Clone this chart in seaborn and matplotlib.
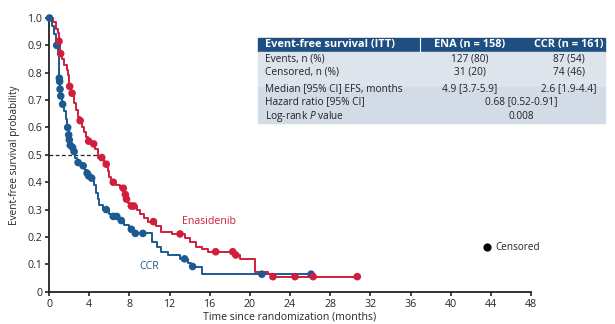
import numpy as np
import pandas as pd
import matplotlib
matplotlib.use('Agg')
import matplotlib.pyplot as plt
import seaborn as sns
from matplotlib.patches import Rectangle

## data
# Enasidenib arm: step times (months) and event-free survival
ena_t = [0, 0.4, 0.7, 0.9, 0.95, 1.12, 1.3, 1.5, 1.75, 1.9, 2.0, 2.2, 2.5, 2.7, 2.9, 3.05,
         3.3, 3.5, 3.7, 3.85, 4.2, 4.6, 4.9, 5.5, 5.85, 6.0, 6.2, 6.7, 7.1, 7.5, 7.7, 7.9,
         8.1, 8.8, 9.1, 9.5, 9.9, 10.7, 11.2, 12.2, 13.5, 14.0, 14.6, 15.2, 15.8, 18.5,
         19.0, 20.5, 21.8, 22.2, 30.8]
ena_s = [1.0, 0.985, 0.96, 0.945, 0.915, 0.87, 0.85, 0.83, 0.81, 0.79, 0.75, 0.725, 0.69,
         0.665, 0.64, 0.625, 0.60, 0.585, 0.565, 0.55, 0.54, 0.52, 0.49, 0.466, 0.44, 0.42,
         0.40, 0.39, 0.378, 0.355, 0.338, 0.325, 0.313, 0.30, 0.285, 0.27, 0.256, 0.24,
         0.217, 0.211, 0.195, 0.18, 0.165, 0.155, 0.146, 0.134, 0.12, 0.072, 0.064, 0.055,
         0.055]
ena_cens_t = [1.0, 1.16, 2.06, 2.3, 3.1, 3.95, 4.45, 5.25, 5.7, 6.4, 7.4, 7.6, 7.72, 8.2,
              8.45, 10.4, 13.05, 16.6, 18.3, 18.6, 22.3, 24.5, 26.3, 30.7]
ena_cens_s = [0.915, 0.87, 0.75, 0.725, 0.625, 0.55, 0.54, 0.49, 0.466, 0.40, 0.378,
              0.355, 0.338, 0.313, 0.313, 0.256, 0.211, 0.146, 0.146, 0.134, 0.055, 0.055,
              0.055, 0.055]

# conventional care regimen arm
ccr_t = [0, 0.3, 0.5, 0.7, 0.85, 0.95, 1.0, 1.1, 1.15, 1.3, 1.5, 1.65, 1.8, 1.95, 2.0,
         2.1, 2.3, 2.45, 2.6, 2.8, 3.2, 3.6, 3.75, 3.9, 4.1, 4.5, 4.7, 4.85, 5.0, 5.4, 6.0,
         6.3, 7.0, 7.5, 8.0, 8.5, 10.3, 10.8, 11.2, 11.9, 13.0, 13.8, 14.1, 15.2, 26.2]
ccr_s = [1.0, 0.97, 0.94, 0.90, 0.87, 0.82, 0.78, 0.74, 0.715, 0.685, 0.66, 0.63, 0.60,
         0.573, 0.555, 0.535, 0.527, 0.512, 0.49, 0.472, 0.46, 0.445, 0.433, 0.423, 0.415,
         0.39, 0.36, 0.34, 0.317, 0.30, 0.285, 0.275, 0.26, 0.245, 0.228, 0.213, 0.18,
         0.165, 0.146, 0.134, 0.12, 0.105, 0.092, 0.064, 0.064]
ccr_cens_t = [0.05, 0.77, 1.03, 1.06, 1.1, 1.17, 1.36, 1.86, 1.96, 2.02, 2.12, 2.35, 2.5,
              2.9, 3.4, 3.8, 3.95, 4.25, 5.7, 6.4, 6.75, 7.2, 8.2, 8.6, 9.35, 13.5, 14.3,
              21.2, 26.1]
ccr_cens_s = [1.0, 0.90, 0.78, 0.768, 0.74, 0.715, 0.685, 0.60, 0.573, 0.555, 0.535,
              0.527, 0.512, 0.472, 0.46, 0.433, 0.423, 0.415, 0.30, 0.275, 0.275, 0.26,
              0.228, 0.213, 0.213, 0.12, 0.092, 0.064, 0.064]

median_ena = 4.9

x_ticks = list(range(0, 49, 4))
y_ticks = [0, 0.1, 0.2, 0.3, 0.4, 0.5, 0.6, 0.7, 0.8, 0.9, 1.0]
y_labels = ['0', '0.1', '0.2', '0.3', '0.4', '0.5', '0.6', '0.7', '0.8', '0.9', '1.0']

table_header = ['Event-free survival (ITT)', 'ENA (n = 158)', 'CCR (n = 161)']
table_rows = ['Events, n (%)', 'Censored, n (%)', 'Median [95% CI] EFS, months',
              'Hazard ratio [95% CI]', 'Log-rank $P$ value']
table_ena = ['127 (80)', '31 (20)', '4.9 [3.7-5.9]']
table_ccr = ['87 (54)', '74 (46)', '2.6 [1.9-4.4]']
table_both = ['0.68 [0.52-0.91]', '0.008']

red = '#cf1f3c'
blue = '#1c5a92'

## figure
sns.set_style('ticks')
plt.rcParams['font.family'] = ['Open Sans', 'DejaVu Sans']
plt.rcParams['mathtext.fontset'] = 'custom'
plt.rcParams['mathtext.it'] = 'Open Sans:italic'

W, H = 615, 324
fig = plt.figure(figsize=(W / 100, H / 100), dpi=100)
ax = fig.add_axes([49 / W, 1 - 291.7 / H, 482 / W, 273.7 / H])

ena = pd.DataFrame({'t': ena_t, 's': ena_s})
ccr = pd.DataFrame({'t': ccr_t, 's': ccr_s})

sns.lineplot(data=ccr, x='t', y='s', color=blue, lw=1.4, drawstyle='steps-post',
             estimator=None, ax=ax, clip_on=False)
sns.lineplot(data=ena, x='t', y='s', color=red, lw=1.4, drawstyle='steps-post',
             estimator=None, ax=ax, clip_on=False)
sns.scatterplot(x=ccr_cens_t, y=ccr_cens_s, color=blue, s=30, edgecolor='none',
                ax=ax, clip_on=False, zorder=4)
sns.scatterplot(x=ena_cens_t, y=ena_cens_s, color=red, s=30, edgecolor='none',
                ax=ax, clip_on=False, zorder=4)

ax.hlines(0.5, 0, median_ena, colors='#222222', linestyles=(0, (3, 2)), lw=0.9, zorder=1)

ax.set_xlim(0, 48)
ax.set_ylim(0, 1.0)
ax.set_xticks(x_ticks)
ax.set_yticks(y_ticks)
ax.set_yticklabels(y_labels)
ax.tick_params(labelsize=7.7, length=3, width=1.2, color='#222222', pad=2)
for side in ['left', 'bottom']:
    ax.spines[side].set_linewidth(1.3)
    ax.spines[side].set_color('#222222')
sns.despine(ax=ax)
ax.set_xlabel('Time since randomization (months)', fontsize=7.6, labelpad=1.5)
ax.set_ylabel('Event-free survival probability', fontsize=7.2, labelpad=5)

ax.text(15.9, 0.255, 'Enasidenib', color=red, fontsize=7.7, ha='center', va='center')
ax.text(10.0, 0.092, 'CCR', color=blue, fontsize=7.7, ha='center', va='center')
ax.scatter([43.6], [0.162], color='black', s=24, clip_on=False)
ax.text(44.5, 0.162, 'Censored', fontsize=7.2, ha='left', va='center')

## table in pixel coordinates of the figure
def fx(x):
    return x / W

def fy(y):
    return 1 - y / H

tx0, tx1 = 258, 605
fig.patches.append(Rectangle((fx(tx0), fy(52)), fx(tx1 - tx0), 14 / H,
                             transform=fig.transFigure, color='#1f4f80'))
fig.patches.append(Rectangle((fx(tx0), fy(86.5)), fx(tx1 - tx0), 34.5 / H,
                             transform=fig.transFigure, color='#dde4ec'))
fig.patches.append(Rectangle((fx(tx0), fy(123)), fx(tx1 - tx0), 35.5 / H,
                             transform=fig.transFigure, color='#d2dbe6'))
fig.lines.append(plt.Line2D([fx(420), fx(420)], [fy(38), fy(52)], color='white',
                            lw=0.8, transform=fig.transFigure))

fs = 7.3
fig.text(fx(265), fy(45), table_header[0], color='white', fontsize=7.9,
         fontweight='bold', va='center')
fig.text(fx(470), fy(45), table_header[1], color='white', fontsize=7.9,
         fontweight='bold', va='center', ha='center')
fig.text(fx(569), fy(45), table_header[2], color='white', fontsize=7.9,
         fontweight='bold', va='center', ha='center')

row_y = [59.3, 72.3, 89, 101.7, 116.7]
for i, label in enumerate(table_rows):
    fig.text(fx(265), fy(row_y[i]), label, fontsize=fs, va='center', color='#222222')
for i in range(3):
    fig.text(fx(470), fy(row_y[i]), table_ena[i], fontsize=fs, va='center',
             ha='center', color='#222222')
    fig.text(fx(569), fy(row_y[i]), table_ccr[i], fontsize=fs, va='center',
             ha='center', color='#222222')
for i in range(2):
    fig.text(fx(521), fy(row_y[3 + i]), table_both[i], fontsize=fs, va='center',
             ha='center', color='#222222')

fig.savefig('out.png', dpi=100)
